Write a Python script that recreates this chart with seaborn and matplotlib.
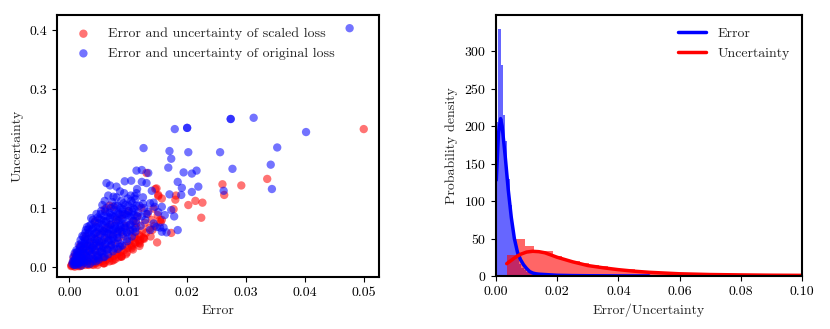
import numpy as np
import pandas as pd
import seaborn as sns
import matplotlib
matplotlib.use('Agg')
import matplotlib.pyplot as plt

# ---- scatter: error vs uncertainty ----
# scaled loss (red): outliers and loose points
scaled_err = [0.0500, 0.0336, 0.0292, 0.0260, 0.0263, 0.0224, 0.0226, 0.0214, 0.0202, 0.0181,
              0.0180, 0.0173, 0.0149, 0.0157, 0.0151, 0.0146, 0.0131, 0.0177, 0.0157, 0.0141,
              0.0127, 0.0118, 0.0088, 0.0111, 0.0126, 0.0120, 0.0106, 0.0089, 0.0075, 0.0058,
              0.0041, 0.0018, 0.0004, 0.0148, 0.0151, 0.0143, 0.0154, 0.0075, 0.0114,
              0.0004, 0.0006, 0.0008, 0.0010, 0.0012, 0.0014, 0.0016, 0.0018, 0.0020, 0.0022,
              0.0024, 0.0026, 0.0028, 0.0030, 0.0032, 0.0034, 0.0036, 0.0038, 0.0040, 0.0042,
              0.0044, 0.0046, 0.0048, 0.0050, 0.0052, 0.0054, 0.0056, 0.0058, 0.0060, 0.0062,
              0.0064, 0.0066, 0.0068, 0.0070, 0.0072, 0.0074, 0.0076, 0.0078, 0.0080, 0.0082,
              0.0084, 0.0086, 0.0088, 0.0090, 0.0092, 0.0094, 0.0096, 0.0098, 0.0100, 0.0102,
              0.0104, 0.0106, 0.0108, 0.0110, 0.0112, 0.0114, 0.0116, 0.0118, 0.0120, 0.0122,
              0.0124, 0.0126, 0.0128, 0.0130, 0.0133, 0.0136, 0.0138, 0.0140, 0.0145, 0.0150,
              0.0155]
scaled_unc = [0.233, 0.149, 0.138, 0.140, 0.122, 0.0836, 0.109, 0.112, 0.105, 0.121,
              0.114, 0.058, 0.042, 0.116, 0.120, 0.132, 0.159, 0.098, 0.080, 0.063,
              0.048, 0.0415, 0.018, 0.052, 0.049, 0.040, 0.035, 0.018, 0.012, 0.0067,
              0.004, 0.002, 0.003, 0.133, 0.122, 0.099, 0.080, 0.102, 0.074,
              0.004, 0.009, 0.003, 0.014, 0.006, 0.020, 0.004, 0.011, 0.027, 0.006,
              0.017, 0.034, 0.010, 0.024, 0.005, 0.040, 0.014, 0.030, 0.008, 0.048,
              0.020, 0.036, 0.011, 0.056, 0.026, 0.042, 0.016, 0.007, 0.064, 0.032,
              0.050, 0.020, 0.010, 0.072, 0.038, 0.056, 0.025, 0.014, 0.080, 0.045,
              0.030, 0.062, 0.019, 0.088, 0.052, 0.036, 0.070, 0.025, 0.095, 0.044,
              0.060, 0.032, 0.078, 0.050, 0.040, 0.068, 0.086, 0.055, 0.045, 0.100,
              0.062, 0.050, 0.075, 0.058, 0.090, 0.066, 0.052, 0.080, 0.070, 0.088,
              0.076]
# scaled loss (red): lower edge of the dense blob
scaled_err_edge = [0.0003, 0.0009, 0.0015, 0.0021, 0.0027, 0.0033, 0.0039, 0.0045, 0.0051, 0.0057,
                   0.0063, 0.0069, 0.0075, 0.0081, 0.0087, 0.0093, 0.0099, 0.0105, 0.0111, 0.0117,
                   0.0121, 0.0119, 0.0108, 0.0096, 0.0084, 0.0072, 0.0060, 0.0048, 0.0007, 0.0010,
                   0.0018, 0.0028, 0.0044, 0.0060, 0.0068]
scaled_unc_edge = [0.002, 0.001, 0.002, 0.003, 0.004, 0.004, 0.005, 0.007, 0.009, 0.011,
                   0.013, 0.016, 0.019, 0.022, 0.026, 0.029, 0.033, 0.037, 0.042, 0.046,
                   0.052, 0.036, 0.030, 0.022, 0.017, 0.011, 0.007, 0.004, 0.016, 0.022,
                   0.036, 0.052, 0.078, 0.098, 0.104]

# original loss (blue): outliers and loose points
orig_err = [0.0476, 0.0313, 0.0274, 0.0402, 0.0200, 0.0179, 0.0126, 0.0170, 0.0202, 0.0256,
            0.0353, 0.0173, 0.0342, 0.0168, 0.0277, 0.0216, 0.0208, 0.0194, 0.0344, 0.0262,
            0.0219, 0.0208, 0.0184, 0.0191, 0.0190, 0.0170, 0.0173, 0.0178, 0.0184, 0.0165,
            0.0160, 0.0140, 0.0114, 0.0123, 0.0134, 0.0105, 0.0094, 0.0080, 0.0063, 0.0069,
            0.0131, 0.0143, 0.0157, 0.0134, 0.0125, 0.0143, 0.0154, 0.0075, 0.0086, 0.0060,
            0.0056, 0.0066, 0.0123, 0.0114, 0.0137, 0.0145, 0.0151, 0.0162, 0.0148, 0.0157,
            0.0137, 0.0274, 0.0200,
            0.0005, 0.0008, 0.0009, 0.0011, 0.0012, 0.0014, 0.0015, 0.0016, 0.0018, 0.0019,
            0.0020, 0.0021, 0.0022, 0.0023, 0.0024, 0.0025, 0.0026, 0.0027, 0.0028, 0.0029,
            0.0030, 0.0031, 0.0032, 0.0033, 0.0034, 0.0035, 0.0036, 0.0037, 0.0038, 0.0039,
            0.0040, 0.0041, 0.0042, 0.0043, 0.0044, 0.0045, 0.0046, 0.0047, 0.0048, 0.0049,
            0.0050, 0.0051, 0.0052, 0.0053, 0.0054, 0.0055, 0.0056, 0.0057, 0.0058, 0.0059,
            0.0060, 0.0061, 0.0062, 0.0063, 0.0064, 0.0065, 0.0066, 0.0067, 0.0068, 0.0069,
            0.0070, 0.0071, 0.0072, 0.0073, 0.0074, 0.0075, 0.0076, 0.0077, 0.0078, 0.0079,
            0.0080, 0.0081, 0.0082, 0.0083, 0.0084, 0.0085, 0.0086, 0.0088, 0.0089, 0.0090,
            0.0091, 0.0093, 0.0094, 0.0095, 0.0097, 0.0098, 0.0099, 0.0101, 0.0102, 0.0104,
            0.0105, 0.0107, 0.0108, 0.0110, 0.0112, 0.0113, 0.0115, 0.0117, 0.0119, 0.0121,
            0.0123, 0.0125, 0.0127, 0.0129, 0.0131, 0.0035, 0.0045, 0.0060, 0.0047, 0.0086]
orig_unc = [0.403, 0.252, 0.250, 0.228, 0.235, 0.233, 0.201, 0.196, 0.194, 0.194,
            0.202, 0.183, 0.173, 0.168, 0.166, 0.163, 0.158, 0.160, 0.132, 0.129,
            0.136, 0.127, 0.144, 0.134, 0.122, 0.123, 0.0965, 0.0858, 0.0628, 0.0589,
            0.067, 0.129, 0.163, 0.164, 0.159, 0.146, 0.145, 0.136, 0.142, 0.138,
            0.142, 0.109, 0.102, 0.094, 0.107, 0.074, 0.067, 0.119, 0.128, 0.112,
            0.105, 0.121, 0.144, 0.125, 0.108, 0.102, 0.093, 0.088, 0.068, 0.060,
            0.063, 0.250, 0.235,
            0.006, 0.004, 0.012, 0.008, 0.019, 0.005, 0.026, 0.013, 0.034, 0.009,
            0.021, 0.041, 0.015, 0.030, 0.052, 0.008, 0.024, 0.045, 0.063, 0.018,
            0.036, 0.011, 0.057, 0.028, 0.070, 0.043, 0.020, 0.083, 0.051, 0.033,
            0.066, 0.014, 0.040, 0.076, 0.027, 0.058, 0.090, 0.047, 0.021, 0.068,
            0.035, 0.082, 0.055, 0.026, 0.095, 0.044, 0.072, 0.061, 0.032, 0.087,
            0.050, 0.039, 0.078, 0.100, 0.058, 0.030, 0.068, 0.046, 0.092, 0.083,
            0.055, 0.038, 0.073, 0.110, 0.062, 0.048, 0.097, 0.085, 0.040, 0.066,
            0.118, 0.057, 0.104, 0.078, 0.050, 0.090, 0.070, 0.112, 0.060, 0.098,
            0.082, 0.125, 0.067, 0.105, 0.088, 0.058, 0.116, 0.095, 0.072, 0.121,
            0.085, 0.108, 0.064, 0.098, 0.115, 0.078, 0.132, 0.092, 0.104, 0.070,
            0.086, 0.118, 0.100, 0.080, 0.090, 0.006, 0.010, 0.018, 0.018, 0.035]
# original loss (blue): filling of the dense blob
orig_err_core = [0.0006, 0.0007, 0.0009, 0.0010, 0.0012, 0.0013, 0.0014, 0.0016, 0.0017, 0.0019,
                 0.0020, 0.0022, 0.0023, 0.0025, 0.0026, 0.0027, 0.0029, 0.0030, 0.0031, 0.0033,
                 0.0034, 0.0036, 0.0037, 0.0039, 0.0040, 0.0042, 0.0043, 0.0045, 0.0046, 0.0048,
                 0.0049, 0.0050, 0.0052, 0.0053, 0.0055, 0.0056, 0.0058, 0.0059, 0.0061, 0.0062,
                 0.0064, 0.0065, 0.0067, 0.0069, 0.0070, 0.0072, 0.0073, 0.0075, 0.0076, 0.0078,
                 0.0079, 0.0081, 0.0083, 0.0084, 0.0086, 0.0087, 0.0089, 0.0091, 0.0092, 0.0094,
                 0.0096, 0.0098, 0.0100, 0.0102, 0.0103, 0.0105, 0.0107, 0.0109, 0.0111, 0.0112,
                 0.0114, 0.0115,
                 0.0008, 0.0011, 0.0013, 0.0015, 0.0018, 0.0020, 0.0021, 0.0024, 0.0026, 0.0028,
                 0.0030, 0.0032, 0.0035, 0.0037, 0.0039, 0.0041, 0.0044, 0.0047, 0.0050, 0.0052,
                 0.0054, 0.0057, 0.0060, 0.0063, 0.0066, 0.0068, 0.0071, 0.0074, 0.0077, 0.0080,
                 0.0082, 0.0085, 0.0088, 0.0090, 0.0093, 0.0097, 0.0099, 0.0104, 0.0108, 0.0110,
                 0.0040, 0.0050, 0.0058, 0.0066, 0.0074, 0.0082, 0.0090, 0.0098, 0.0106, 0.0112,
                 0.0030, 0.0020, 0.0055, 0.0070]
orig_unc_core = [0.010, 0.018, 0.024, 0.004, 0.029, 0.013, 0.021, 0.038, 0.007, 0.046,
                 0.016, 0.053, 0.024, 0.040, 0.012, 0.058, 0.031, 0.068, 0.047, 0.016,
                 0.059, 0.037, 0.072, 0.023, 0.080, 0.056, 0.030, 0.068, 0.042, 0.084,
                 0.016, 0.074, 0.037, 0.090, 0.058, 0.024, 0.078, 0.046, 0.094, 0.066,
                 0.030, 0.086, 0.056, 0.072, 0.100, 0.045, 0.086, 0.064, 0.032, 0.104,
                 0.076, 0.050, 0.092, 0.064, 0.040, 0.100, 0.082, 0.056, 0.108, 0.090,
                 0.074, 0.048, 0.104, 0.086, 0.062, 0.112, 0.094, 0.078, 0.120, 0.066,
                 0.104, 0.086,
                 0.008, 0.015, 0.026, 0.009, 0.028, 0.036, 0.010, 0.032, 0.048, 0.020,
                 0.040, 0.064, 0.028, 0.052, 0.064, 0.036, 0.048, 0.060, 0.044, 0.066,
                 0.080, 0.036, 0.060, 0.076, 0.044, 0.064, 0.088, 0.052, 0.070, 0.090,
                 0.060, 0.080, 0.068, 0.094, 0.070, 0.060, 0.092, 0.072, 0.100, 0.088,
                 0.010, 0.013, 0.017, 0.022, 0.027, 0.031, 0.037, 0.044, 0.052, 0.060,
                 0.006, 0.003, 0.028, 0.035]

# ---- histograms (bin edges + densities) ----
err_bin_width = 0.00075
err_density = [205, 330, 282, 215, 180, 130, 95, 70, 45, 25,
               16, 11, 8, 6, 5, 4, 3.5, 3, 4, 3,
               2.5, 2, 1.5, 1.5, 1.2, 1.2, 1, 1, 1, 0.9,
               0.9, 0.8, 0.8, 0.7, 0.7, 0.6, 0.6, 0.6, 0.5, 0.5,
               0.5, 0.5, 0.4, 0.4, 0.4, 0.4, 0.4, 0.3, 0.3, 0.3,
               0.3, 0.3, 0.3, 0.3, 0.3, 0.2, 0.2, 0.2, 0.2, 0.2,
               0.2, 0.2, 0.2, 0.2, 0.2, 0.2, 0.2]
unc_bin_start = 0.0035
unc_bin_width = 0.003
unc_density = [28, 50, 40, 34, 33, 27, 22, 20, 17, 15,
               13, 11, 10, 9, 6, 5, 4.5, 4, 3.5, 3,
               2.5, 2.2, 2, 1.8, 1.6, 1.5, 1.3, 1.2, 1.1, 1,
               0.9, 0.8, 0.7]

# ---- density curves ----
err_kde_x = [0.0001, 0.0008, 0.0015, 0.002, 0.003, 0.004, 0.005, 0.006, 0.007, 0.008,
             0.009, 0.010, 0.011, 0.012, 0.013, 0.014, 0.016, 0.018, 0.020, 0.025,
             0.030, 0.040, 0.050]
err_kde_y = [128, 190, 210, 200, 160, 115, 78, 50, 32, 22,
             15, 10, 6, 4, 3, 2.5, 2, 1.5, 1, 0.6,
             0.4, 0.2, 0.1]
unc_kde_x = [0.0035, 0.006, 0.008, 0.010, 0.012, 0.014, 0.016, 0.018, 0.020, 0.025,
             0.030, 0.035, 0.040, 0.045, 0.050, 0.060, 0.070, 0.080, 0.090, 0.100]
unc_kde_y = [16.5, 24, 29, 32, 33, 32.5, 31, 28, 25, 19,
             14, 11, 8.5, 6.5, 5, 3, 2, 1.5, 1.1, 0.9]

sns.set_style('ticks')
plt.rcParams['font.family'] = ['serif']
plt.rcParams['font.serif'] = ['cmr10', 'DejaVu Serif']
plt.rcParams['mathtext.fontset'] = 'cm'
plt.rcParams['axes.formatter.use_mathtext'] = True
plt.rcParams['font.size'] = 10

fig = plt.figure(figsize=(8.3, 3.29), dpi=100)
ax1 = fig.add_axes([0.0687, 0.158, 0.388, 0.796])
ax2 = fig.add_axes([0.5976, 0.161, 0.3687, 0.793])

# left: scatter
red_df = pd.DataFrame({'err': scaled_err + scaled_err_edge, 'unc': scaled_unc + scaled_unc_edge})
blue_df = pd.DataFrame({'err': orig_err + orig_err_core, 'unc': orig_unc + orig_unc_core})
sns.scatterplot(data=red_df, x='err', y='unc', color='red', alpha=0.55, s=36,
                edgecolor='none', label='Error and uncertainty of scaled loss', ax=ax1)
sns.scatterplot(data=blue_df, x='err', y='unc', color='blue', alpha=0.55, s=36,
                edgecolor='none', label='Error and uncertainty of original loss', ax=ax1)
ax1.set_xlim(-0.0021, 0.0526)
ax1.set_ylim(-0.0163, 0.425)
ax1.set_xticks([0.0, 0.01, 0.02, 0.03, 0.04, 0.05])
ax1.set_xticklabels(['0.00', '0.01', '0.02', '0.03', '0.04', '0.05'])
ax1.set_yticks([0.0, 0.1, 0.2, 0.3, 0.4])
ax1.set_yticklabels(['0.0', '0.1', '0.2', '0.3', '0.4'])
ax1.set_xlabel('Error')
ax1.set_ylabel('Uncertainty')
ax1.legend(loc='upper left', frameon=False)

# right: histograms + density curves
n_err = len(err_density)
err_edges = [round(i * err_bin_width, 6) for i in range(n_err + 1)]
err_df = pd.DataFrame({'x': [e + err_bin_width / 2 for e in err_edges[:-1]], 'w': err_density})
n_unc = len(unc_density)
unc_edges = [round(unc_bin_start + i * unc_bin_width, 6) for i in range(n_unc + 1)]
unc_df = pd.DataFrame({'x': [e + unc_bin_width / 2 for e in unc_edges[:-1]], 'w': unc_density})

sns.histplot(data=err_df, x='x', weights='w', bins=err_edges,
             color='blue', alpha=0.6, linewidth=0, ax=ax2)
sns.histplot(data=unc_df, x='x', weights='w', bins=unc_edges,
             color='red', alpha=0.6, linewidth=0, ax=ax2)
sns.lineplot(x=err_kde_x, y=err_kde_y, color='blue', lw=2.5, label='Error', ax=ax2)
sns.lineplot(x=unc_kde_x, y=unc_kde_y, color='red', lw=2.5, label='Uncertainty', ax=ax2)
ax2.set_xlim(0, 0.1)
ax2.set_ylim(0, 348)
ax2.set_xticks([0.0, 0.02, 0.04, 0.06, 0.08, 0.10])
ax2.set_xticklabels(['0.00', '0.02', '0.04', '0.06', '0.08', '0.10'])
ax2.set_yticks([0, 50, 100, 150, 200, 250, 300])
ax2.set_xlabel('Error/Uncertainty')
ax2.set_ylabel('Probability density')
ax2.legend(loc='upper right', frameon=False)

for ax in (ax1, ax2):
    for sp in ax.spines.values():
        sp.set_visible(True)
        sp.set_linewidth(1.5)
        sp.set_color('black')
    ax.tick_params(direction='out', length=3.5, width=0.8, labelsize=10, colors='black')

fig.savefig('out.png', dpi=100)
